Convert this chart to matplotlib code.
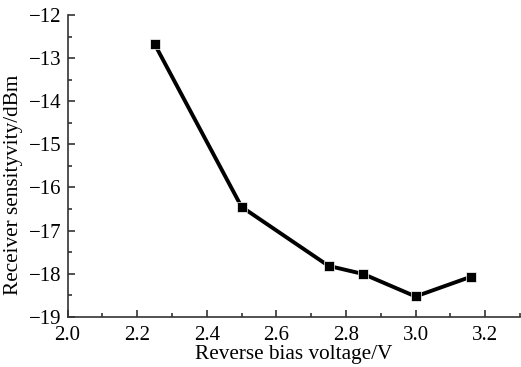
import matplotlib
matplotlib.use("Agg")
import matplotlib.pyplot as plt
from matplotlib.ticker import MultipleLocator

voltage = [2.25, 2.50, 2.75, 2.85, 3.00, 3.16]
sensitivity = [-12.67, -16.45, -17.82, -18.01, -18.53, -18.07]
xticks = [2.0, 2.2, 2.4, 2.6, 2.8, 3.0, 3.2]
yticks = [-19, -18, -17, -16, -15, -14, -13, -12]

plt.rcParams['font.family'] = ['Liberation Serif', 'DejaVu Serif']

fig = plt.figure(figsize=(5.21, 3.67), dpi=100)
ax = fig.add_axes([0.1296, 0.137, 0.8684, 0.822])
ax.plot(voltage, sensitivity, color='black', linewidth=2.8, marker='s',
        markersize=7.5, markerfacecolor='black', markeredgecolor='white', markeredgewidth=0.5)

ax.set_xlim(2.0, 3.3)
ax.set_ylim(-19, -12)
ax.xaxis.set_minor_locator(MultipleLocator(0.1))
ax.yaxis.set_minor_locator(MultipleLocator(0.5))
ax.set_xticks(xticks)
ax.set_xticklabels([f'{v:.1f}' for v in xticks])
ax.set_yticks(yticks)
ax.set_yticklabels([f'\u2212{abs(v)}' for v in yticks])

for s in ['top', 'right']:
    ax.spines[s].set_visible(False)
for s in ['left', 'bottom']:
    ax.spines[s].set_linewidth(1.2)
    ax.spines[s].set_color('#333333')

ax.tick_params(which='both', direction='in', colors='#333333', labelcolor='black', labelsize=15)
ax.tick_params(which='major', length=5, width=1.2)
ax.tick_params(which='minor', length=3, width=1.2)
ax.tick_params(axis='x', which='major', pad=7)
ax.tick_params(axis='y', which='major', pad=4)

ax.set_xlabel('Reverse bias voltage/V', fontsize=15.3, labelpad=0)
ax.set_ylabel('Receiver sensityvity/dBm', fontsize=15.3)
ax.yaxis.set_label_coords(-0.098, 0.437)

fig.savefig('out.png', dpi=100)
